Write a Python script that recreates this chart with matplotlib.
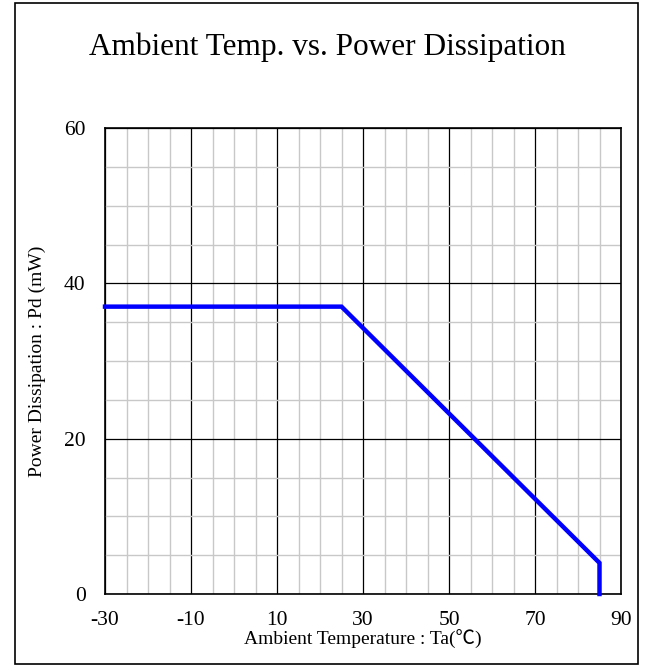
import matplotlib
matplotlib.use('Agg')
import matplotlib.pyplot as plt
import numpy as np
from matplotlib.patches import Rectangle

plt.rcParams['font.family'] = ['Liberation Serif', 'Noto Sans CJK JP', 'DejaVu Sans']
plt.rcParams['axes.unicode_minus'] = False

# Data
temp = [-30, 25, 85, 85]
power = [37, 37, 4, 0]
x_ticks = [-30, -10, 10, 30, 50, 70, 90]
y_ticks = [0, 20, 40, 60]

fig = plt.figure(figsize=(6.54, 6.67), dpi=100)
ax = fig.add_axes([105 / 654, 1 - 594 / 667, 516 / 654, 466 / 667])

# outer frame
fig.patches.append(Rectangle((15 / 654, 3 / 667), 623 / 654, 661 / 667,
                             transform=fig.transFigure, fill=False,
                             edgecolor='black', linewidth=1.2))

ax.set_xlim(-30, 90)
ax.set_ylim(0, 60)
ax.set_xticks(x_ticks)
ax.set_yticks(y_ticks)
ax.set_xticks(np.arange(-30, 91, 5), minor=True)
ax.set_yticks(np.arange(0, 61, 5), minor=True)
ax.grid(which='minor', color='#c8c8c8', linewidth=1.0)
ax.grid(which='major', color='black', linewidth=0.9)
ax.set_axisbelow(True)
ax.tick_params(which='both', length=0, labelsize=15.5)
ax.tick_params(axis='x', pad=12)
ax.tick_params(axis='y', pad=14)
for s in ax.spines.values():
    s.set_linewidth(1.2)

ax.plot(temp, power, color='#0000ff', linewidth=3.2, solid_joinstyle='miter', clip_on=False, zorder=5)

ax.set_xlabel('Ambient Temperature : Ta(℃)', fontsize=14, va='center')
ax.xaxis.set_label_coords(0.5, -45 / 466)
ax.set_ylabel('Power Dissipation : Pd (mW)', fontsize=14, labelpad=13)
fig.text(0.5, 1 - 47 / 667, 'Ambient Temp. vs. Power Dissipation', ha='center', va='center', fontsize=22.5)

fig.savefig('out.png', dpi=100)
